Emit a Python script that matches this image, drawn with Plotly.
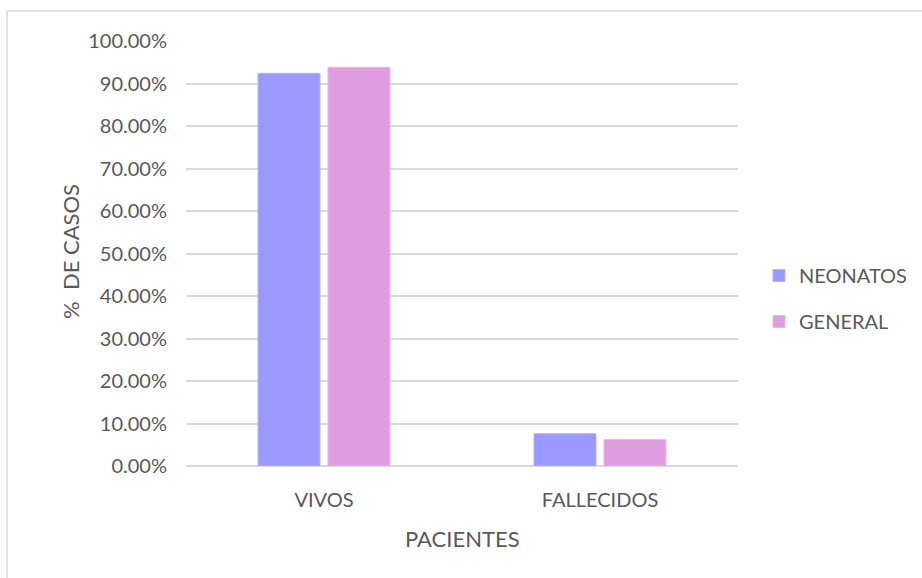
import plotly.graph_objects as go

categories = ["VIVOS", "FALLECIDOS"]
neonatos = [92.4, 7.6]
general = [93.8, 6.2]
y_ticks = [0, 10, 20, 30, 40, 50, 60, 70, 80, 90, 100]
y_tick_labels = [f"{v:.2f}%" for v in y_ticks]

FONT = "Lato"
GRAY = "#595959"
TICK = 20
TITLE = 22

fig = go.Figure()
fig.add_trace(go.Bar(name="NEONATOS", x=categories, y=neonatos,
                     marker=dict(color="#9999ff", line=dict(color="#b3b3ff", width=1)),
                     legendgroup="a"))
fig.add_trace(go.Bar(name="GENERAL", x=categories, y=general,
                     marker=dict(color="#dd9ddf", line=dict(color="#e8b5ea", width=1)),
                     legendgroup="b"))

L, R, T, B = 186, 184, 41, 112
W, H = 922, 578
pw, ph = W - L - R, H - T - B

def px(x):
    return (x - L) / pw

def py(y):
    return (H - B - y) / ph

fig.update_layout(
    width=W, height=H,
    margin=dict(l=L, r=R, t=T, b=B, autoexpand=False),
    paper_bgcolor="white", plot_bgcolor="white",
    font=dict(family=FONT, size=TICK, color=GRAY),
    barmode="group", bargap=0.493, bargroupgap=0.114,
    showlegend=True,
    legend=dict(x=px(759), y=py(298.5), xanchor="left", yanchor="middle",
                font=dict(family=FONT, size=TICK, color=GRAY),
                tracegroupgap=17, traceorder="grouped", itemwidth=30,
                bgcolor="rgba(0,0,0,0)"),
    xaxis=dict(showgrid=False, showline=False, zeroline=False, ticks="",
               ticklabelstandoff=20,
               tickfont=dict(family=FONT, size=TICK, color=GRAY)),
    yaxis=dict(range=[0, 100], tickvals=y_ticks, ticktext=y_tick_labels,
               showgrid=True, gridcolor="#d9d9d9", gridwidth=1.5,
               zeroline=True, zerolinecolor="#d9d9d9", zerolinewidth=1.5,
               showline=False, ticks="", ticklabelstandoff=18,
               tickfont=dict(family=FONT, size=TICK, color=GRAY)),
    annotations=[
        dict(text="PACIENTES", xref="paper", yref="paper", x=px(462), y=py(538),
             xanchor="center", yanchor="middle", showarrow=False,
             font=dict(family=FONT, size=TITLE, color=GRAY)),
        dict(text="%  DE CASOS", xref="paper", yref="paper", x=px(70), y=py(252),
             xanchor="center", yanchor="middle", showarrow=False, textangle=-90,
             font=dict(family=FONT, size=TITLE, color=GRAY)),
    ],
)

# chart frame border (left and top)
fig.add_shape(type="line", xref="paper", yref="paper",
              x0=px(7), x1=px(7), y0=py(11), y1=py(590),
              line=dict(color="#d9d9d9", width=1.5))
fig.add_shape(type="line", xref="paper", yref="paper",
              x0=px(7), x1=px(930), y0=py(11), y1=py(11),
              line=dict(color="#d9d9d9", width=1.5))

fig.write_html("out.html", config={"displayModeBar": False},
               post_script="document.body.style.margin='0';document.body.style.overflow='hidden';")
